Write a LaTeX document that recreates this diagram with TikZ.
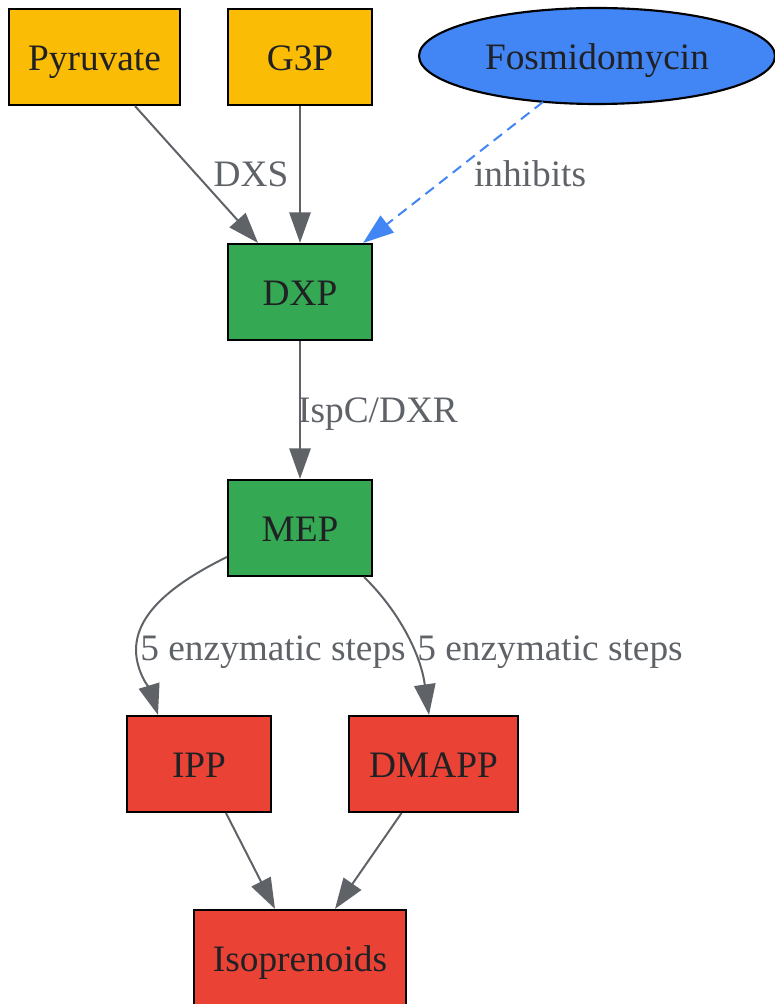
\documentclass[tikz,border=0pt]{standalone}
\usepackage{fontspec}
\setmainfont{Liberation Serif}
\usetikzlibrary{shapes.geometric,arrows.meta,calc}
\definecolor{cyellow}{HTML}{FBBC05}
\definecolor{cgreen}{HTML}{34A853}
\definecolor{cblue}{HTML}{4285F4}
\definecolor{cred}{HTML}{EA4335}
\definecolor{ctext}{HTML}{202124}
\definecolor{cedge}{HTML}{5F6368}
\tikzset{
  box/.style={draw=black, line width=0.8pt, rectangle, inner sep=0pt, minimum height=36pt, text=ctext, text height=12pt, text depth=2.2pt, font=\fontsize{14pt}{17pt}\selectfont},
  ovalbox/.style={draw=black, line width=0.8pt, ellipse, inner sep=0pt, minimum height=36pt, text=ctext, text height=12pt, text depth=2.2pt, font=\fontsize{14pt}{17pt}\selectfont},
  conn/.style={draw=cedge, line width=0.75pt, -{Triangle[length=11.5pt,width=8pt]}},
  inhib/.style={draw=cblue, line width=0.75pt, dash pattern=on 4pt off 2.5pt, -{Triangle[length=11.5pt,width=8pt]}},
  elabel/.style={text=cedge, inner sep=0pt, text height=11pt, text depth=2.8pt, font=\fontsize{14pt}{17pt}\selectfont}
}
\begin{document}
\begin{tikzpicture}[x=0.375pt,y=-0.375pt]
\useasboundingbox (0,0) rectangle (774,1004);
% nodes
\node[box, fill=cyellow, minimum width=64.1pt] (pyr) at (94.5,57) {Pyruvate};
\node[box, fill=cyellow, minimum width=54pt] (g3p) at (300,57) {G3P};
\node[ovalbox, fill=cblue, minimum width=133.5pt] (fos) at (597,56) {Fosmidomycin};
\node[box, fill=cgreen, minimum width=54pt] (dxp) at (300,292) {DXP};
\node[box, fill=cgreen, minimum width=54pt] (mep) at (300,528) {MEP};
\node[box, fill=cred, minimum width=54pt] (ipp) at (199,764) {IPP};
\node[box, fill=cred, minimum width=63.4pt] (dmapp) at (433.5,764) {DMAPP};
\node[box, fill=cred, minimum width=79.5pt] (iso) at (300,958) {Isoprenoids};
% edge labels
\node[elabel] (lbldxs) at (251,176) {DXS};
\node[elabel] (lblinh) at (530,176) {inhibits};
\node[elabel] (lblisp) at (378,412) {IspC/DXR};
\node[elabel] (lblipp) at (273,650) {5 enzymatic steps};
\node[elabel] (lbldma) at (550,650) {5 enzymatic steps};
% connectors
\draw[conn] ($(pyr.south)+(40.5,0)$) -- ($(dxp.north)+(-42,0)$);
\draw[conn] (g3p.south) -- (dxp.north);
\draw[inhib] ($(fos.center)+(-54,46)$) -- ($(dxp.north east)+(-10,0)$);
\draw[conn] (dxp.south) -- (mep.north);
\draw[conn] ($(mep.west)+(0,29)$) .. controls (170,585) and (136,615) .. (136,650) .. controls (136,672) and (151,692) .. ($(ipp.north)+(-41,0)$);
\draw[conn] ($(mep.south)+(64,0)$) .. controls (395,607) and (420,650) .. ($(dmapp.north)+(-4.5,0)$);
\draw[conn] ($(ipp.south)+(27,0)$) -- ($(iso.north)+(-25,0)$);
\draw[conn] ($(dmapp.south)+(-32,0)$) -- ($(iso.north)+(35,0)$);
\end{tikzpicture}
\end{document}
